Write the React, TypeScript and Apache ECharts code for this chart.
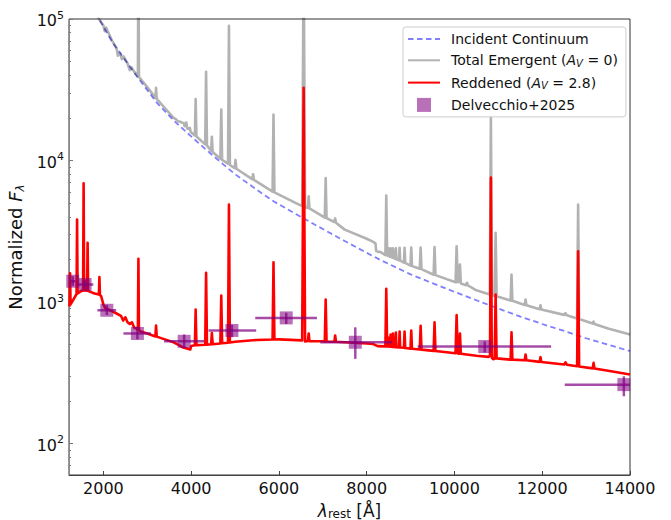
import React, { useEffect, useRef } from 'react';
import * as echarts from 'echarts';

const FONT = 'DejaVu Sans';

// Incident continuum (wavelength Å, normalized flux)
const incWave = [1216, 1500, 1900, 2200, 2500, 2800, 3200, 3600, 4000, 4500, 5000, 5500, 5877, 6500, 7000, 7500, 8000, 8300, 8500, 9000, 9500, 10000, 10500, 11000, 11500, 12000, 12500, 13000, 13500, 14000];
const incFlux = [330000, 185000, 100000, 69000, 51000, 38000, 26000, 19200, 14800, 10800, 8000, 6200, 5150, 4000, 3280, 2700, 2230, 1990, 1860, 1570, 1360, 1180, 1030, 900, 790, 700, 625, 555, 500, 450];

// Total emergent spectrum (A_V = 0): [wavelength, flux]
const totalSpec: [number, number][] = [
  [1216, 330000], [1500, 180000], [1900, 100000], [2000, 90000], [2030, 82000], [2060, 87000], [2200, 70000],
  [2300, 62000], [2330, 55000], [2380, 57500], [2420, 52000], [2460, 54500], [2550, 48500], [2600, 43500],
  [2640, 45500], [2700, 42500], [2786, 39500], [2798, 300000], [2810, 39000], [2900, 36000], [3000, 33000],
  [3185, 27700], [3200, 32600], [3215, 27300], [3400, 23500], [3600, 20000], [3650, 19600], [3700, 18900],
  [3750, 18800], [3835, 18300], [3850, 17500], [3889, 18600], [3910, 16800], [3970, 17000], [3990, 15900],
  [4085, 15000], [4102, 27200], [4120, 14800], [4320, 13000], [4340, 42300], [4360, 12800], [4455, 11700],
  [4471, 14700], [4490, 11500], [4665, 10300], [4686, 22900], [4705, 10100], [4840, 9500], [4861, 89700],
  [4882, 9300], [4990, 8850], [5010, 10100], [5030, 8750], [5390, 7400], [5411, 8000], [5430, 7300],
  [5855, 6030], [5876, 21100], [5897, 5950], [6400, 4980], [6530, 4760], [6563, 300000], [6596, 4700],
  [6660, 4620], [6678, 5590], [6696, 4590], [7045, 3950], [7065, 7530], [7085, 3920], [7263, 3680],
  [7281, 3900], [7300, 3640], [7500, 3250], [8000, 2800], [8150, 2660], [8200, 2600], [8215, 2300],
  [8260, 2260], [8300, 2270], [8426, 2150], [8446, 5650], [8466, 2140], [8488, 2120], [8498, 2400],
  [8510, 2110], [8533, 2090], [8545, 2400], [8557, 2080], [8585, 2060], [8598, 2400], [8611, 2050],
  [8652, 2020], [8665, 2400], [8678, 2010], [8737, 1970], [8750, 2420], [8763, 1960], [8848, 1900],
  [8863, 2420], [8878, 1890], [8998, 1810], [9015, 2430], [9032, 1800], [9210, 1720], [9229, 2430],
  [9248, 1710], [9525, 1560], [9546, 2450], [9567, 1550], [10025, 1380], [10049, 2480], [10075, 1380],
  [10105, 1400], [10125, 1840], [10145, 1355], [10270, 1315], [10287, 1370], [10305, 1310], [10500, 1210],
  [10805, 1130], [10830, 20500], [10855, 1120], [10915, 1105], [10938, 3085], [10960, 1100], [11280, 1025],
  [11300, 1563], [11320, 1020], [11600, 955], [11620, 1042], [11640, 950], [11940, 890], [11960, 948],
  [11980, 885], [12500, 812], [12530, 835], [12560, 806], [12795, 765], [12818, 4890], [12841, 760],
  [13150, 705], [13170, 728], [13190, 700], [13500, 650], [14000, 590],
];

// Reddened spectrum (A_V = 2.8): [wavelength, flux]
const reddenedSpec: [number, number][] = [
  [1216, 930], [1228, 950], [1240, 1600], [1252, 965], [1300, 1020], [1388, 1140], [1400, 3830], [1412, 1150],
  [1500, 1200], [1537, 1205], [1549, 6900], [1561, 1208], [1628, 1205], [1640, 2620], [1652, 1200],
  [1700, 1180], [1800, 1150], [1897, 1130], [1909, 1500], [1921, 1120], [1950, 1100], [2000, 960],
  [2050, 900], [2100, 890], [2200, 860], [2300, 830], [2400, 800], [2450, 740], [2500, 780], [2550, 720],
  [2600, 700], [2650, 720], [2700, 660], [2750, 650], [2786, 640], [2798, 2020], [2810, 635], [2850, 620],
  [3000, 600], [3185, 572], [3200, 683], [3215, 570], [3400, 545], [3600, 520], [3700, 500], [3800, 480],
  [3900, 470], [3980, 462], [4000, 490], [4085, 495], [4102, 885], [4120, 496], [4320, 500], [4340, 1607],
  [4360, 500], [4455, 503], [4471, 605], [4490, 504], [4665, 510], [4686, 1111], [4705, 512], [4840, 516],
  [4861, 4890], [4882, 518], [5000, 525], [5500, 540], [5855, 544], [5876, 1910], [5897, 544], [6000, 545],
  [6530, 536], [6563, 32700], [6596, 526], [6660, 530], [6678, 600], [6696, 530], [7000, 528], [7045, 527],
  [7065, 1042], [7085, 527], [7263, 524], [7281, 581], [7300, 524], [7500, 520], [8000, 510], [8150, 505],
  [8250, 488], [8426, 486], [8446, 1239], [8466, 486], [8488, 485], [8498, 560], [8510, 485], [8533, 484],
  [8545, 590], [8557, 483], [8585, 482], [8598, 600], [8611, 481], [8652, 480], [8665, 610], [8678, 479],
  [8737, 478], [8750, 620], [8763, 477], [8848, 475], [8863, 620], [8878, 474], [8998, 469], [9015, 630],
  [9032, 468], [9210, 462], [9229, 680], [9248, 461], [9525, 452], [9546, 720], [9567, 451], [10025, 435],
  [10049, 808], [10075, 434], [10110, 432], [10125, 600], [10145, 431], [10500, 418], [10780, 410],
  [10810, 420], [10830, 7570], [10850, 405], [10880, 395], [10915, 398], [10938, 1130], [10960, 400],
  [11280, 392], [11300, 612], [11320, 392], [11600, 388], [11620, 426], [11640, 388], [11940, 378],
  [11960, 408], [11980, 377], [12500, 362], [12530, 375], [12560, 361], [12795, 352], [12818, 2285],
  [12841, 351], [13150, 340], [13170, 372], [13190, 339], [13500, 327], [14000, 308],
];

// Delvecchio+2025 photometry
const ptWave = [1302, 1583, 2078, 2775, 3840, 4928, 6166, 7740, 10690, 13860];
const ptFlux = [1403, 1330, 875, 600, 528, 630, 773, 520, 485, 261];
const ptWaveLo = [1250, 1420, 1863, 2456, 3384, 4395, 5460, 6943, 9161, 12513];
const ptWaveHi = [1360, 1770, 2290, 3081, 4296, 5482, 6866, 8577, 12203, 15200];
const ptFluxLo = [1300, 1230, 810, 545, 474, 565, 700, 397, 440, 216];
const ptFluxHi = [1520, 1440, 955, 670, 590, 690, 840, 663, 528, 299];

const xTicks = [2000, 4000, 6000, 8000, 10000, 12000, 14000];
const yMajor = [100, 1000, 10000, 100000];
const yMinor = [70, 80, 90, 200, 300, 400, 500, 600, 700, 800, 900, 2000, 3000, 4000, 5000, 6000, 7000, 8000, 9000,
  20000, 30000, 40000, 50000, 60000, 70000, 80000, 90000];

const legendLabels: Record<string, string> = {
  'Incident Continuum': 'Incident Continuum',
  'Total Emergent': 'Total Emergent ({i|A}{sub|V}{t| = 0})',
  'Reddened': 'Reddened ({i|A}{sub|V}{t| = 2.8})',
  'Delvecchio+2025': 'Delvecchio+2025',
};

const PURPLE = 'rgba(128,0,128,0.7)';

export default function App() {
  const ref = useRef<HTMLDivElement>(null);
  useEffect(() => {
    const chart = echarts.init(ref.current!, null, { renderer: 'svg' });
    const incData = incWave.map((w, i) => [w, incFlux[i]]);
    const errData = ptWave.map((w, i) => [w, ptFlux[i], ptWaveLo[i], ptWaveHi[i], ptFluxLo[i], ptFluxHi[i]]);
    const ptData = ptWave.map((w, i) => [w, ptFlux[i]]);
    const hideSym = { opacity: 0 };
    const option: any = {
      animation: false,
      backgroundColor: '#ffffff',
      textStyle: { fontFamily: FONT },
      grid: {
        left: 69, right: 41, top: 19, bottom: 45, show: true, borderColor: '#333', borderWidth: 1,
        backgroundColor: 'transparent', containLabel: false, outerBoundsMode: 'none',
      },
      legend: {
        orient: 'vertical', left: 403, top: 27,
        padding: [5, 8, 5, 4],
        itemWidth: 32, itemHeight: 14, itemGap: 7.3,
        backgroundColor: 'rgba(255,255,255,0.85)', borderColor: '#cccccc', borderWidth: 1, borderRadius: 3,
        data: [
          { name: 'Incident Continuum', itemStyle: hideSym },
          { name: 'Total Emergent', itemStyle: hideSym },
          { name: 'Reddened', itemStyle: hideSym },
          { name: 'Delvecchio+2025' },
        ],
        formatter: (name: string) => legendLabels[name],
        textStyle: {
          fontFamily: FONT, fontSize: 14, color: '#111', padding: [0, 0, 0, 6],
          rich: {
            i: { fontFamily: FONT, fontStyle: 'italic', fontSize: 14, color: '#111' },
            sub: { fontFamily: FONT, fontStyle: 'italic', fontSize: 10, color: '#111', padding: [6, 0, 0, 0] },
            t: { fontFamily: FONT, fontSize: 14, color: '#111' },
          },
        },
      },
      xAxis: {
        type: 'value', min: 1216, max: 14000,
        axisLine: { show: true, lineStyle: { color: '#444', width: 1 } },
        axisTick: { show: true, inside: true, length: 4, customValues: xTicks, lineStyle: { color: '#444' } },
        axisLabel: {
          customValues: xTicks, fontSize: 16, color: '#111', margin: 5, fontFamily: FONT,
          formatter: (v: number) => String(v),
        },
        splitLine: { show: false },
        name: '{i|λ}{sub|rest} [Å]', nameLocation: 'middle', nameGap: 24,
        nameTextStyle: {
          fontFamily: FONT, fontSize: 17, color: '#111', lineHeight: 20,
          rich: {
            i: { fontFamily: FONT, fontStyle: 'italic', fontSize: 17, color: '#111', lineHeight: 20 },
            sub: { fontFamily: FONT, fontSize: 12, color: '#111', lineHeight: 20, padding: [6, 0, 0, 0] },
          },
        },
      },
      yAxis: [
        {
          type: 'log', min: 60, max: 100000, logBase: 10,
          axisLine: { show: true, lineStyle: { color: '#8a8a8a', width: 1 } },
          axisTick: { show: true, inside: true, length: 4, customValues: yMajor, lineStyle: { color: '#777' } },
          axisLabel: {
            customValues: yMajor, margin: 5, color: '#111',
            formatter: (v: number) => `{b|10}{sup|${Math.round(Math.log10(v))}}`,
            rich: {
              b: { fontFamily: FONT, fontSize: 16, color: '#111', padding: [3, 0, 0, 0] },
              sup: { fontFamily: FONT, fontSize: 11, color: '#111', padding: [0, 0, 8, 0] },
            },
          },
          splitLine: { show: false },
          name: '{t|Normalized }{i|F}{sub|λ}', nameLocation: 'middle', nameRotate: 90, nameGap: 31,
          nameTextStyle: {
            fontFamily: FONT, fontSize: 18, color: '#111',
            rich: {
              t: { fontFamily: FONT, fontSize: 18, color: '#111' },
              i: { fontFamily: FONT, fontStyle: 'italic', fontSize: 18, color: '#111' },
              sub: { fontFamily: FONT, fontStyle: 'italic', fontSize: 12, color: '#111', padding: [8, 0, 0, 0] },
            },
          },
        },
        {
          type: 'log', min: 60, max: 100000, logBase: 10, position: 'left',
          axisLine: { show: false },
          axisTick: { show: true, inside: true, length: 2, customValues: yMinor, lineStyle: { color: '#777' } },
          axisLabel: { show: false },
          splitLine: { show: false },
        },
      ],
      series: [
        {
          type: 'line', name: 'Incident Continuum', data: incData, showSymbol: false, symbol: 'none', z: 2,
          lineStyle: { color: 'rgba(0,0,255,0.5)', width: 1.8, type: [5.5, 3.5] },
          itemStyle: { color: 'rgba(0,0,255,0.5)' }, silent: true,
        },
        {
          type: 'line', name: 'Total Emergent', data: totalSpec, showSymbol: false, symbol: 'none', z: 3,
          lineStyle: { color: 'rgba(0,0,0,0.3)', width: 2.6, join: 'round' },
          itemStyle: { color: 'rgba(0,0,0,0.3)' }, silent: true,
        },
        {
          type: 'line', name: 'Reddened', data: reddenedSpec, showSymbol: false, symbol: 'none', z: 4,
          lineStyle: { color: '#ff0000', width: 2.6, join: 'round' },
          itemStyle: { color: '#ff0000' }, silent: true,
        },
        {
          type: 'custom', name: 'errbars', data: errData, z: 5, clip: true, silent: true,
          encode: { x: [0, 2, 3], y: [1, 4, 5] },
          renderItem: (params: any, api: any) => {
            const x = api.value(0), y = api.value(1);
            const a = api.coord([api.value(2), y]);
            const b = api.coord([api.value(3), y]);
            const c = api.coord([x, api.value(4)]);
            const d = api.coord([x, api.value(5)]);
            const style = { stroke: PURPLE, lineWidth: 2.5 };
            return {
              type: 'group',
              children: [
                { type: 'line', shape: { x1: a[0], y1: a[1], x2: b[0], y2: b[1] }, style },
                { type: 'line', shape: { x1: c[0], y1: c[1], x2: d[0], y2: d[1] }, style },
              ],
            };
          },
        },
        {
          type: 'scatter', name: 'Delvecchio+2025', data: ptData, z: 6, silent: true,
          symbol: 'path://M0 0H10V10H0Z', symbolKeepAspect: true, symbolSize: 13,
          itemStyle: { color: PURPLE },
        },
      ],
    };
    chart.setOption(option);
    return () => chart.dispose();
  }, []);
  return <div ref={ref} style={{ position: 'absolute', left: 0, top: 0, width: 671, height: 520, background: '#fff' }} />;
}
